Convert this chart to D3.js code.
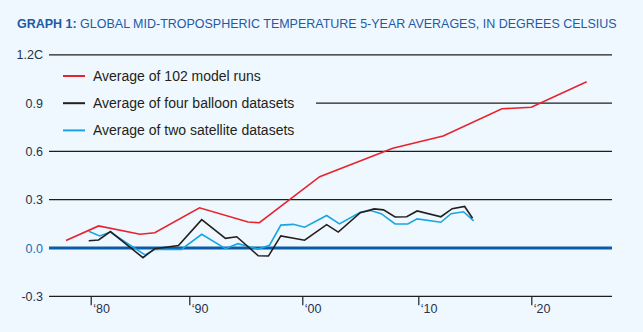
<!DOCTYPE html>
<html><head><meta charset="utf-8">
<script src="https://cdn.jsdelivr.net/npm/d3@7"></script>
<style>
html,body{margin:0;padding:0;background:#eff8fe;}
svg{display:block;font-family:"Liberation Sans",Arial,sans-serif;}
</style></head>
<body><svg id="c" width="643" height="332"></svg>
<script>
const title = "GRAPH 1:";
const titleRest = " GLOBAL MID-TROPOSPHERIC TEMPERATURE 5-YEAR AVERAGES, IN DEGREES CELSIUS";
const seriesNames = ["Average of 102 model runs","Average of four balloon datasets","Average of two satellite datasets"];
const yTicks = [-0.3,0,0.3,0.6,0.9,1.2];
const yTickLabels = ["-0.3","0.0","0.3","0.6","0.9","1.2C"];
const xTicks = [1980,1990,2000,2010,2020];
const xTickLabels = ["\u201880","\u201890","\u201800","\u201810","\u201820"];

const modelYears = [1977.5,1980.8,1985.0,1986.5,1990.9,1995.2,1996.2,2001.5,2007.8,2012.2,2017.4,2020.0,2024.9];
const modelVals  = [0.047,0.137,0.085,0.095,0.250,0.161,0.157,0.443,0.619,0.696,0.865,0.874,1.033];

const balloonYears = [1979.8,1980.8,1982.0,1985.3,1986.5,1988.9,1991.1,1993.2,1994.2,1996.1,1997.0,1998.1,2000.2,2002.1,2003.1,2005.0,2006.2,2007.0,2008.0,2009.0,2009.9,2012.0,2013.0,2014.1,2014.8];
const balloonVals  = [0.045,0.050,0.102,-0.060,-0.004,0.016,0.176,0.060,0.070,-0.048,-0.050,0.075,0.048,0.145,0.099,0.219,0.243,0.237,0.193,0.194,0.230,0.194,0.244,0.258,0.185];

const satYears = [1979.8,1980.9,1982.0,1985.5,1986.5,1989.2,1991.1,1993.2,1994.3,1996.1,1997.1,1998.1,1999.2,2000.2,2002.1,2003.2,2005.0,2005.9,2006.8,2008.0,2009.1,2009.9,2012.0,2012.9,2014.0,2014.9];
const satVals  = [0.104,0.075,0.099,-0.043,-0.009,-0.009,0.085,-0.004,0.027,-0.007,0.017,0.142,0.147,0.129,0.202,0.150,0.222,0.233,0.213,0.149,0.149,0.181,0.160,0.213,0.225,0.169];

const colors = ["#e8232d","#231f20","#17a6e2"];
const textCol = "#27324f";

const svg = d3.select("#c");
const gx0 = 49, gx1 = 612;
const x = d3.scaleLinear().domain(xTicks).range([90.7,189.3,302.3,418.3,531.3]);
const xExt = d3.scaleLinear().domain([1970,1980]).range([x(1980)-98.6,x(1980)]);
const xs = d => d < 1980 ? xExt(d) : x(d);
const y = d3.scaleLinear().domain([-0.3,1.2]).range([296.3,54.8]);

// title (font size fitted to the reference width)
const t = svg.append("text").attr("x",17).attr("y",27.5).attr("font-size",13).attr("fill","#1d5aa8")
  .attr("font-family","'Liberation Sans',Arial,sans-serif");
t.append("tspan").attr("font-weight","bold").text(title);
t.append("tspan").text(titleRest);
const tw = t.node().getComputedTextLength();
const fs = Math.min(14, 13 * 600 / tw);
t.attr("font-size", fs);

// gridlines
const yAxis = d3.axisLeft(y).tickValues(yTicks).tickSize(0).tickPadding(6)
  .tickFormat((d,i)=>yTickLabels[i]);
const ga = svg.append("g").attr("transform",`translate(${gx0},0)`).call(yAxis);
ga.select(".domain").remove();
ga.selectAll("text").attr("font-size",12.5).attr("fill",d=>d===0?"#1c6cb5":textCol)
  .attr("font-family","'Liberation Sans',Arial,sans-serif").attr("x",-6);
svg.append("g").selectAll("line").data(yTicks.filter(d=>d!==0)).join("line")
  .attr("x1",gx0).attr("x2",gx1).attr("y1",d=>y(d)).attr("y2",d=>y(d))
  .attr("stroke","#1e1e1e").attr("stroke-width",1.2);

// bottom axis ticks
const xAxis = d3.axisBottom(x).tickValues(xTicks).tickSize(9).tickPadding(0)
  .tickFormat((d,i)=>xTickLabels[i]);
const gb = svg.append("g").attr("transform",`translate(0,${y(-0.3)})`).call(xAxis);
gb.select(".domain").remove();
gb.selectAll("line").attr("stroke","#1e1e1e").attr("stroke-width",1.2);
gb.selectAll("text").attr("text-anchor","start").attr("x",2).attr("dy","0").attr("y",17)
  .attr("font-size",12.5).attr("fill",textCol).attr("font-family","'Liberation Sans',Arial,sans-serif");

// legend background
svg.append("rect").attr("x",gx0-1).attr("y",62).attr("width",268).attr("height",82).attr("fill","#eff8fe");

// zero line
svg.append("line").attr("x1",gx0).attr("x2",gx1).attr("y1",y(0)).attr("y2",y(0))
  .attr("stroke","#0b5ca6").attr("stroke-width",3);

// series
const line = d3.line().x(d=>xs(d[0])).y(d=>y(d[1]));
const series = [
  d3.zip(modelYears, modelVals),
  d3.zip(balloonYears, balloonVals),
  d3.zip(satYears, satVals)
];
[2,1,0].forEach(i=>{
  svg.append("path").datum(series[i]).attr("d",line).attr("fill","none")
    .attr("stroke",colors[i]).attr("stroke-width",1.6).attr("stroke-linejoin","miter");
});

// legend
const lg = svg.append("g");
seriesNames.forEach((n,i)=>{
  const yy = 76 + i*27.2;
  lg.append("line").attr("x1",63).attr("x2",85).attr("y1",yy).attr("y2",yy)
    .attr("stroke",colors[i]).attr("stroke-width",2);
  lg.append("text").attr("x",93).attr("y",yy+5).attr("font-size",14).attr("fill","#231f20")
    .attr("font-family","'Liberation Sans',Arial,sans-serif").text(n);
});
</script></body></html>
